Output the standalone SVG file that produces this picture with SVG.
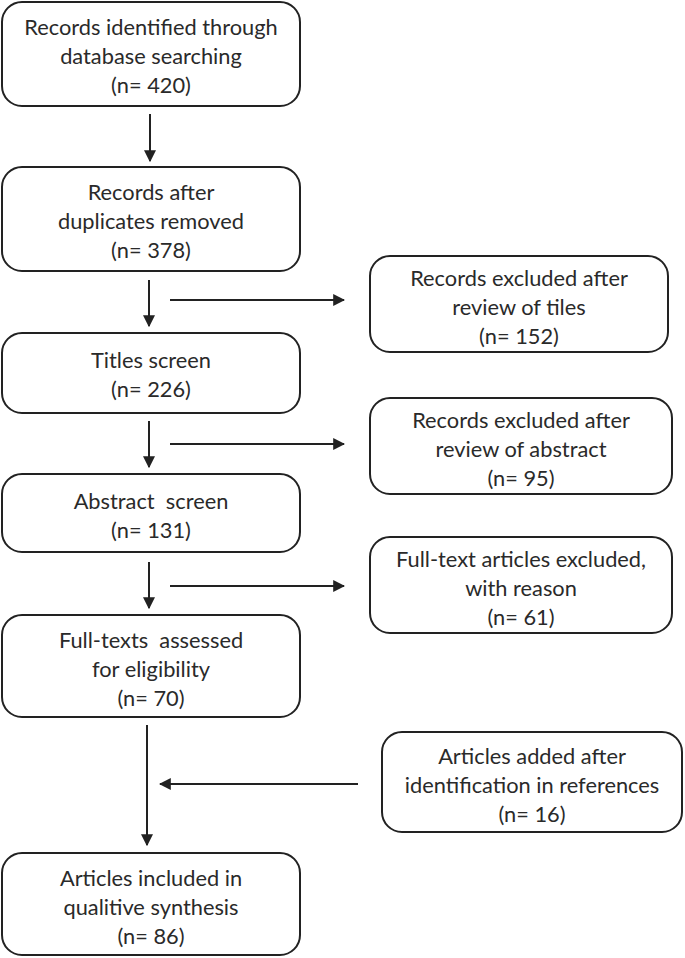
<svg xmlns="http://www.w3.org/2000/svg" width="685" height="958" viewBox="0 0 685 958">
<defs>
<style>
.box{fill:#fff;stroke:#222;stroke-width:2}
.t{font-family:Lato,"Open Sans",sans-serif;font-size:21.8px;fill:#2a2a2a;text-anchor:middle;white-space:pre}
.c{stroke:#222;stroke-width:2;fill:none;marker-end:url(#ah)}
</style>
<marker id="ah" viewBox="0 0 10 10" refX="9" refY="5" markerWidth="6" markerHeight="6" markerUnits="strokeWidth" orient="auto"><path d="M0,0 L10,5 L0,10 z" fill="#222"/></marker>
</defs>
<rect width="685" height="958" fill="#fff"/>
<g id="connectors">
<line class="c" x1="150" y1="114" x2="150" y2="161"/>
<line class="c" x1="149" y1="280" x2="149" y2="326"/>
<line class="c" x1="170" y1="300" x2="344" y2="300"/>
<line class="c" x1="149" y1="421" x2="149" y2="467"/>
<line class="c" x1="170" y1="444" x2="344" y2="444"/>
<line class="c" x1="149" y1="562" x2="149" y2="608"/>
<line class="c" x1="170" y1="586" x2="344" y2="586"/>
<line class="c" x1="147" y1="725" x2="147" y2="845"/>
<line class="c" x1="358" y1="784" x2="160" y2="784"/>
</g>
<g id="n1"><rect class="box" x="2" y="2" width="298" height="104" rx="20"/>
<text class="t" x="151" y="35">Records identified through</text><text class="t" x="151" y="64">database searching</text><text class="t" x="151" y="93">(n= 420)</text></g>
<g id="n2"><rect class="box" x="2" y="167" width="298" height="104" rx="20"/>
<text class="t" x="151" y="200">Records after</text><text class="t" x="151" y="229">duplicates removed</text><text class="t" x="151" y="258">(n= 378)</text></g>
<g id="n3"><rect class="box" x="2" y="333" width="298" height="80" rx="20"/>
<text class="t" x="151" y="368">Titles screen</text><text class="t" x="151" y="397">(n= 226)</text></g>
<g id="n4"><rect class="box" x="2" y="474" width="298" height="78" rx="20"/>
<text class="t" x="151" y="509">Abstract  screen</text><text class="t" x="151" y="538">(n= 131)</text></g>
<g id="n5"><rect class="box" x="2" y="615" width="298" height="102" rx="20"/>
<text class="t" x="151" y="648">Full-texts  assessed</text><text class="t" x="151" y="677">for eligibility</text><text class="t" x="151" y="706">(n= 70)</text></g>
<g id="n6"><rect class="box" x="2" y="853" width="298" height="102" rx="20"/>
<text class="t" x="151" y="886">Articles included in</text><text class="t" x="151" y="915">qualitive synthesis</text><text class="t" x="151" y="944">(n= 86)</text></g>
<g id="r1"><rect class="box" x="370" y="256" width="298" height="96" rx="20"/>
<text class="t" x="519" y="286">Records excluded after</text><text class="t" x="519" y="315">review of tiles</text><text class="t" x="519" y="344">(n= 152)</text></g>
<g id="r2"><rect class="box" x="370" y="398" width="302" height="96" rx="20"/>
<text class="t" x="521" y="428">Records excluded after</text><text class="t" x="521" y="457">review of abstract</text><text class="t" x="521" y="486">(n= 95)</text></g>
<g id="r3"><rect class="box" x="370" y="537" width="302" height="96" rx="20"/>
<text class="t" x="521" y="567">Full-text articles excluded,</text><text class="t" x="521" y="596">with reason</text><text class="t" x="521" y="625">(n= 61)</text></g>
<g id="r4"><rect class="box" x="382" y="732" width="300" height="100" rx="20"/>
<text class="t" x="532" y="764">Articles added after</text><text class="t" x="532" y="793">identification in references</text><text class="t" x="532" y="822">(n= 16)</text></g>
</svg>
